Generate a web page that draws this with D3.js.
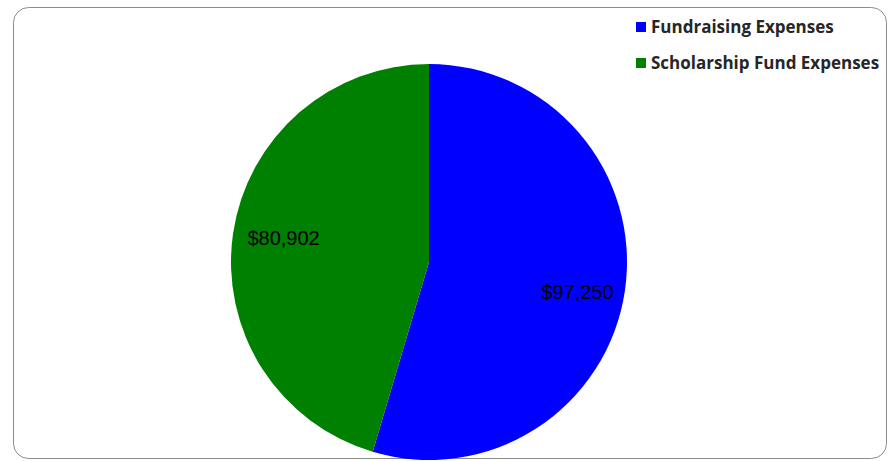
<!DOCTYPE html>
<meta charset="utf-8">
<style>
  body { margin: 0; background: #fff; }
  .legend text { font-family: "Open Sans", sans-serif; font-weight: 700; font-size: 17px; fill: #262626; }
  .label { font-family: "Liberation Sans", Arial, sans-serif; font-size: 20px; fill: #000; }
</style>
<body>
<script src="https://cdn.jsdelivr.net/npm/d3@7"></script>
<script>
  var width = 888, height = 461;

  // data
  var categories = ["Fundraising Expenses", "Scholarship Fund Expenses"];
  var values = [97250, 80902];
  var colors = ["#0000ff", "#008000"];

  var svg = d3.select("body").append("svg")
      .attr("width", width)
      .attr("height", height);

  // chart frame
  svg.append("rect")
      .attr("x", 13.5).attr("y", 7.5)
      .attr("width", 873).attr("height", 451)
      .attr("rx", 15).attr("ry", 15)
      .attr("fill", "#fff")
      .attr("stroke", "#8c8c8c")
      .attr("stroke-width", 1);

  var cx = 429, cy = 262, r = 198;

  var data = categories.map(function (c, i) { return {name: c, value: values[i], color: colors[i]}; });

  var pie = d3.pie().sort(null).value(function (d) { return d.value; });
  var arc = d3.arc().innerRadius(0).outerRadius(r);
  var labelArc = d3.arc().innerRadius(150).outerRadius(150);

  var g = svg.append("g").attr("transform", "translate(" + cx + "," + cy + ")");
  var slices = pie(data);

  g.selectAll("path")
      .data(slices)
      .enter().append("path")
      .attr("d", arc)
      .attr("fill", function (d) { return d.data.color; });

  // small nudge so labels sit like the original
  var nudge = [[0, 8], [3, -2]];

  g.selectAll(".label")
      .data(slices)
      .enter().append("text")
      .attr("class", "label")
      .attr("transform", function (d, i) {
          var c = labelArc.centroid(d);
          return "translate(" + (c[0] + nudge[i][0]) + "," + (c[1] + nudge[i][1]) + ")";
      })
      .attr("text-anchor", "middle")
      .attr("dy", "0.35em")
      .text(function (d) { return "$" + d3.format(",")(d.data.value); });

  // legend
  var legend = svg.append("g").attr("class", "legend")
      .selectAll("g")
      .data(data)
      .enter().append("g")
      .attr("transform", function (d, i) { return "translate(636," + (22 + i * 36) + ")"; });

  legend.append("rect")
      .attr("width", 10).attr("height", 10)
      .attr("fill", function (d) { return d.color; });

  legend.append("text")
      .attr("x", 15).attr("y", 11)
      .text(function (d) { return d.name; });
</script>
</body>
